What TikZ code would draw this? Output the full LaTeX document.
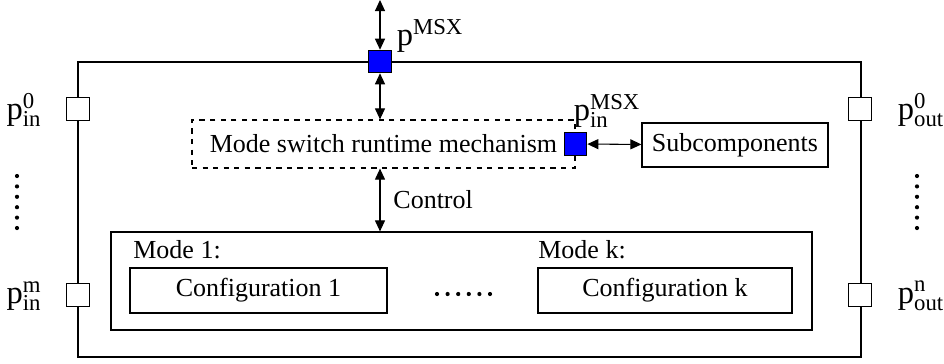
\documentclass[tikz,border=0pt]{standalone}
\usepackage{fontspec}
\setmainfont{Liberation Serif}
\usetikzlibrary{arrows.meta}
\usetikzlibrary{positioning}
\newcommand{\portsize}{0.45cm}
\newcommand{\portlbl}[2]{$\mathrm{p}^{\mathrm{#2}}_{\mathrm{#1}}$}

\begin{document}
\begin{tikzpicture}[x=0.02cm,y=-0.02cm,font=\fontsize{14.8}{17}\selectfont,
    >={Triangle[length=2.2mm,width=2mm]}]
  \tikzset{
    port/.style={draw,fill=white,line width=0.6pt,minimum size=\portsize,inner sep=0pt},
    msxport/.style={port,fill=blue},
    box/.style={draw,line width=0.7pt,inner sep=0pt},
    plbl/.style={font=\fontsize{18.5}{22}\selectfont,inner sep=0pt},
    link/.style={<->,line width=0.6pt}
  }
  \useasboundingbox (0,0) rectangle (944,363);

  % the component
  \node[box,line width=0.8pt,minimum width=15.66cm,minimum height=5.9cm] (comp) at (469.5,209.5) {};

  % mode switch part
  \node[box,dashed,minimum width=7.66cm,minimum height=0.96cm] (msw) at (383.5,144) {Mode switch runtime mechanism};
  \node[box,minimum width=3.72cm,minimum height=0.88cm] (sub) at (735,145) {Subcomponents};
  \node[msxport] (msx) at (380,61.5) {};
  \node[msxport] (msxin) at (msw.east) {};
  \node[plbl] (lmsx) at (430,36) {\portlbl{}{MSX}};
  \node[plbl] (lmsxin) at (607,111) {\portlbl{in}{MSX}};

  % modes
  \node[box,minimum width=14.02cm,minimum height=1.96cm] (modes) at (461.5,281) {};
  \node[box,minimum width=5.14cm,minimum height=0.9cm] (conf1) at (258.5,290.5) {Configuration 1};
  \node[box,minimum width=5.08cm,minimum height=0.9cm] (confk) at (665,290.5) {Configuration k};
  \node[anchor=west,inner sep=0pt] (mode1) at (133,250) {Mode 1:};
  \node[anchor=west,inner sep=0pt] (modek) at (538,250) {Mode k:};
  \foreach \i in {0,...,5}
    \fill (437+\i*10.6,294) circle (2.1);

  % data ports
  \node[port] (in0) at (78,109) {};
  \node[port] (inm) at (78,295) {};
  \node[port] (out0) at (860,109) {};
  \node[port] (outn) at (860,295) {};
  \node[plbl] (lin0) at (24,110) {\portlbl{in}{0}};
  \node[plbl] (linm) at (24,296) {\portlbl{in}{m}};
  \node[plbl] (lout0) at (921,110) {\portlbl{out}{0}};
  \node[plbl] (loutn) at (921,296) {\portlbl{out}{n}};
  \foreach \i in {0,...,5} {
    \fill (17,176+\i*10.4) circle (2.1);
    \fill (917,176+\i*10.4) circle (2.1);
  }

  % connections
  \coordinate (top) at (380,0);
  \draw[link] (top) -- (msx);
  \draw[link] (msx.south) -- (msx.south |- msw.north);
  \draw[link] (msx.south |- msw.south) -- (msx.south |- modes.north)
    node[pos=0.5,right=4pt] (ctrl) {Control};
  \draw[link] (msxin) -- (sub);
\end{tikzpicture}
\end{document}
